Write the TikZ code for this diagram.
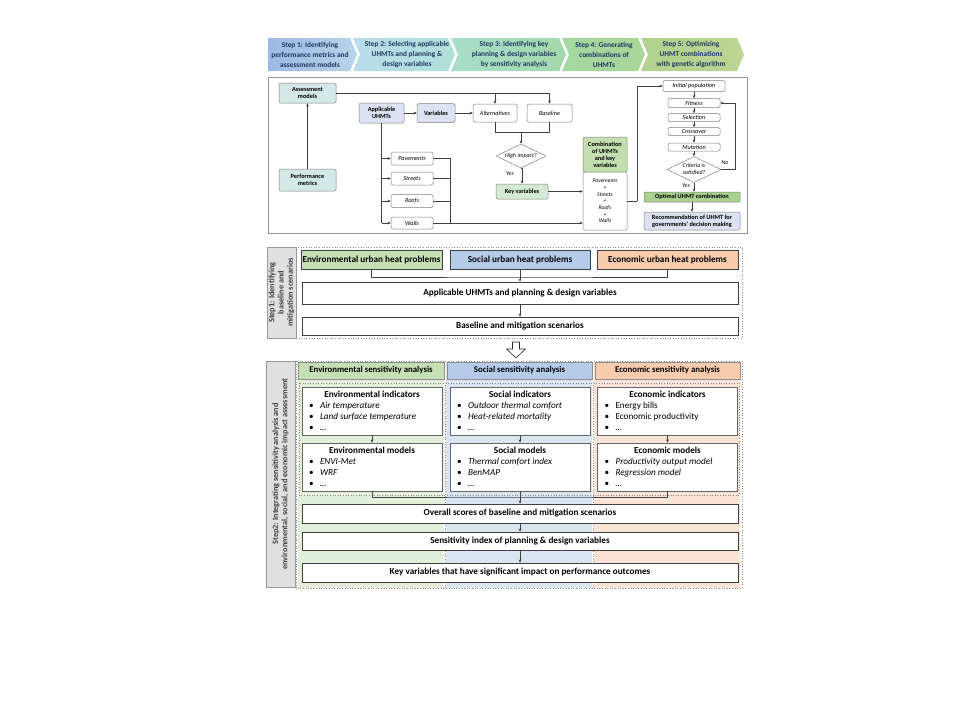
\documentclass[tikz,border=0pt]{standalone}
\usepackage{fontspec}
\setmainfont{Carlito}
\usetikzlibrary{shapes.geometric,arrows.meta,calc}
\newcommand\myfs[2]{\fontsize{#1}{#2}\selectfont}
\newcommand\myitem[1]{\makebox[136pt][l]{\hspace*{5pt}\makebox[11pt][l]{\textbullet}#1}}
\definecolor{navy}{HTML}{203864}
\definecolor{cteal}{HTML}{D2E9E7}
\definecolor{clav}{HTML}{DCE2F3}
\definecolor{ckey}{HTML}{D3EBD6}
\definecolor{ccomb}{HTML}{C3DFB0}
\definecolor{copt}{HTML}{A9D18E}
\definecolor{genv}{HTML}{C5E0B4}
\definecolor{gsoc}{HTML}{B4CCEA}
\definecolor{geco}{HTML}{F8CBAD}
\definecolor{lenv}{HTML}{E2EFDA}
\definecolor{lsoc}{HTML}{DAE5F3}
\definecolor{leco}{HTML}{FBE4D6}
\definecolor{ba1}{HTML}{9CBAE2}
\definecolor{bb1}{HTML}{B9D3EA}
\definecolor{ba2}{HTML}{B9DCEA}
\definecolor{bb2}{HTML}{AEE0D9}
\definecolor{ba3}{HTML}{A8DDCB}
\definecolor{bb3}{HTML}{A2D9A9}
\definecolor{ba4}{HTML}{A2D8A2}
\definecolor{bb4}{HTML}{A9D597}
\definecolor{ba5}{HTML}{AFD28E}
\definecolor{bb5}{HTML}{BDD592}
\begin{document}
\begin{tikzpicture}[x=1pt,y=-1pt,
  ln/.style={draw=black!75,line width=0.55pt},
  arr/.style={ln,-{Stealth[length=3.2pt,width=2.8pt]}},
  tb/.style={draw=black!50,line width=0.5pt,rounded corners=1.5pt,inner sep=0pt,align=center,font=\myfs{6.2}{7}},
  tbb/.style={tb,font=\myfs{6.3}{7}\bfseries},
  tbi/.style={tb,font=\myfs{6.2}{7}\itshape},
  dia/.style={diamond,aspect=2,draw=black!50,line width=0.5pt,inner sep=0pt,align=center,font=\myfs{5.9}{6.4}\itshape},
  big/.style={draw=black!75,line width=0.6pt,inner sep=0pt,align=center,font=\myfs{9.2}{10}\bfseries},
  pan/.style={draw=black!60,fill=white,line width=0.6pt,inner sep=0pt,minimum width=140pt,align=center,font=\myfs{9.2}{10.8}},
  sidel/.style={draw=black!40,fill=black!12,line width=0.5pt,inner sep=0pt,rotate=90,align=center,font=\myfs{8.2}{9.2}\bfseries,text=black!75},
  dotf/.style={draw=black!45,dotted,line width=0.6pt},
  ban/.style={align=center,font=\myfs{7.4}{10}\bfseries,text=navy,inner sep=0pt},
]
\useasboundingbox (0,0) rectangle (960,720);
\fill[white] (0,0) rectangle (960,720);

% ---------- banner ----------
\shade[left color=ba1,right color=bb1] (268,38) -- (350,38) -- (357,54.5) -- (350,71) -- (268,71) -- cycle;
\shade[left color=ba2,right color=bb2] (353,38) -- (448,38) -- (455,54.5) -- (448,71) -- (353,71) -- (360,54.5) -- cycle;
\shade[left color=ba3,right color=bb3] (451,38) -- (559,38) -- (566,54.5) -- (559,71) -- (451,71) -- (458,54.5) -- cycle;
\shade[left color=ba4,right color=bb4] (562,38) -- (638,38) -- (645,54.5) -- (638,71) -- (562,71) -- (569,54.5) -- cycle;
\shade[left color=ba5,right color=bb5] (641,38) -- (737,38) -- (744,54.5) -- (737,71) -- (641,71) -- (648,54.5) -- cycle;
\node[ban] (b1) at (310,54.5) {Step 1: Identifying\\performance metrics and\\assessment models};
\node[ban] (b2) at (407,54.5) {Step 2: Selecting applicable\\UHMTs and planning \&\\design variables};
\node[ban] (b3) at (514,54.5) {Step 3: Identifying key\\planning \& design variables\\by sensitivity analysis};
\node[ban] (b4) at (604,54.5) {Step 4: Generating\\combinations of\\UHMTs};
\node[ban] (b5) at (691,54.5) {Step 5: Optimizing\\UHMT combinations\\with genetic algorithm};

% ---------- top flowchart ----------
\draw[black!40,line width=0.8pt] (268,77) rectangle (747,233);
\node[tbb,fill=cteal,minimum width=57pt,minimum height=20pt] (assess) at (307.5,93) {Assessment\\models};
\node[tbb,fill=cteal,minimum width=57pt,minimum height=22pt] (perf) at (307.5,180) {Performance\\metrics};
\node[tbb,fill=clav,minimum width=45pt,minimum height=20pt] (appl) at (381.5,113) {Applicable\\UHMTs};
\node[tbb,fill=clav,minimum width=38pt,minimum height=19pt] (vars) at (436,113) {Variables};
\node[tbi,fill=white,minimum width=44pt,minimum height=18pt] (alt) at (495,113) {Alternatives};
\node[tbi,fill=white,minimum width=45pt,minimum height=18pt] (base) at (549.5,113) {Baseline};
\node[dia,fill=white,minimum width=50pt,minimum height=24pt] (high) at (521,156) {High impact?};
\node[tbb,fill=ckey,minimum width=52pt,minimum height=15pt] (keyv) at (522,191.5) {Key variables};
\node[tbb,fill=ccomb,minimum width=44pt,minimum height=35pt] (comb) at (605,154.5) {Combination\\of UHMTs\\and key\\variables};
\node[tbi,fill=white,minimum width=44pt,minimum height=58pt,font=\myfs{5.6}{6.7}\itshape] (combl) at (605,201) {Pavements\\+\\Streets\\+\\Roofs\\+\\Walls};
\node[tbi,fill=white,minimum width=42pt,minimum height=13pt] (pav) at (412,158.5) {Pavements};
\node[tbi,fill=white,minimum width=42pt,minimum height=13pt] (str) at (412,178.5) {Streets};
\node[tbi,fill=white,minimum width=42pt,minimum height=13pt] (roof) at (412,201) {Roofs};
\node[tbi,fill=white,minimum width=42pt,minimum height=12pt] (walls) at (412,223) {Walls};
\node[tbi,fill=white,minimum width=62pt,minimum height=11pt] (init) at (694,86) {Initial population};
\node[tbi,fill=white,minimum width=52pt,minimum height=9pt] (fit) at (694,103) {Fitness};
\node[tbi,fill=white,minimum width=52pt,minimum height=8pt] (sel) at (694,117.5) {Selection};
\node[tbi,fill=white,minimum width=52pt,minimum height=8pt] (cross) at (694,131.5) {Crossover};
\node[tbi,fill=white,minimum width=52pt,minimum height=8pt] (mut) at (694,147) {Mutation};
\node[dia,fill=white,minimum width=54pt,minimum height=26pt] (crit) at (694,169.5) {Criteria is\\satisfied?};
\node[tbb,fill=copt,minimum width=96pt,minimum height=10pt,rounded corners=0.5pt] (opt) at (692,197) {Optimal UHMT combination};
\node[tbb,fill=clav,minimum width=96pt,minimum height=18pt] (rec) at (692,221) {Recommendation of UHMT for\\governments' decision making};

\draw[arr] (perf.north) -- (assess.south);
\draw[ln] (assess.east) -- (base.north |- assess.east);
\draw[arr] (base.north |- assess.east) -- (base.north);
\draw[arr] (alt.north |- assess.east) -- (alt.north);
\draw[arr] (appl.east) -- (vars.west);
\draw[arr] (vars.east) -- (alt.west);
\coordinate (j1) at (521,132.5);
\draw[ln] (alt.south) |- (j1) -| (base.south);
\draw[arr] (j1) -- (high.north);
\draw[arr] (high.south) -- (keyv.north |- high.south) -- (keyv.north);
\node[font=\myfs{5.9}{6.4}\itshape,inner sep=0pt] (yes1) at (510,174) {Yes};
\draw[ln] (appl.south) -- (appl.south |- walls.west);
\draw[arr] (appl.south |- pav.west) -- (pav.west);
\draw[arr] (appl.south |- str.west) -- (str.west);
\draw[arr] (appl.south |- roof.west) -- (roof.west);
\draw[arr] (appl.south |- walls.west) -- (walls.west);
\coordinate (j2) at (450,158.5);
\draw[ln] (pav.east) -- (j2) -- (j2 |- walls.east);
\draw[ln] (str.east) -- (str.east -| j2);
\draw[ln] (roof.east) -- (roof.east -| j2);
\draw[arr] (walls.east) -- (walls.east -| combl.west);
\draw[arr] (keyv.east) -- (keyv.east -| combl.west);
\coordinate (j3) at (637,201);
\draw[ln] (combl.east) -- (j3);
\draw[arr] (j3) |- (init.west);
\draw[arr] (init.south) -- (fit.north);
\draw[arr] (fit.south) -- (sel.north);
\draw[arr] (sel.south) -- (cross.north);
\draw[arr] (cross.south) -- (mut.north);
\draw[arr] (mut.south) -- (crit.north);
\coordinate (j4) at (735,169.5);
\draw[ln] (crit.east) -- (j4);
\draw[arr] (j4) |- (fit.east);
\node[font=\myfs{5.9}{6.4}\itshape,inner sep=0pt] (no1) at (725,163) {No};
\draw[arr] (crit.south) -- (crit.south |- opt.north);
\node[font=\myfs{5.9}{6.4}\itshape,inner sep=0pt] (yes2) at (686,186) {Yes};
\draw[arr] (opt.south) -- (rec.north);

% ---------- Step 1 ----------
\draw[dotf] (296,247) rectangle (742,338);
\node[sidel,minimum width=91pt,minimum height=29pt] (s1) at (281.5,292.5) {Step1: Identifying\\baseline and\\mitigation scenarios};
\node[big,fill=genv,minimum width=141pt,minimum height=19pt] (env1) at (371.5,259.5) {Environmental urban heat problems};
\node[big,fill=gsoc,minimum width=140pt,minimum height=19pt] (soc1) at (520,259.5) {Social urban heat problems};
\node[big,fill=geco,minimum width=141pt,minimum height=19pt] (eco1) at (667.5,259.5) {Economic urban heat problems};
\node[big,fill=white,minimum width=436pt,minimum height=22pt] (appl2) at (520,293) {Applicable UHMTs and planning \& design variables};
\node[big,fill=white,minimum width=436pt,minimum height=18pt] (basel) at (520,326) {Baseline and mitigation scenarios};
\coordinate (j5) at (520,277);
\draw[ln] (env1.south) |- (j5) -| (eco1.south);
\draw[arr] (soc1.south) -- (appl2.north);
\draw[arr] (appl2.south) -- (basel.north);

% hollow arrow
\draw[fill=white,draw=black!85,line width=0.6pt] (512.5,342) -- (519.5,342) -- (519.5,349) -- (525.5,349) -- (516,358) -- (506.5,349) -- (512.5,349) -- cycle;

% ---------- Step 2 ----------
\fill[lenv] (298,362) rectangle (444,588);
\fill[lsoc] (446,362) rectangle (592,588);
\fill[leco] (594,362) rectangle (740,588);
\draw[dotf] (296,361) rectangle (742,588);
\draw[dotf] (445,382) -- (445,588);
\draw[dotf] (593,382) -- (593,588);
\draw[dotf] (299,383) rectangle (739,495);
\node[sidel,minimum width=226pt,minimum height=29pt] (s2) at (280.5,474) {Step2: Integrating sensitivity analysis and\\environmental, social, and economic impact assessment};
\node[big,fill=genv,draw=black!45,minimum width=146pt,minimum height=17pt,font=\myfs{8.8}{9.5}\bfseries] (env2) at (371,370.5) {Environmental sensitivity analysis};
\node[big,fill=gsoc,draw=black!45,minimum width=145pt,minimum height=17pt,font=\myfs{8.8}{9.5}\bfseries] (soc2) at (519.5,370.5) {Social sensitivity analysis};
\node[big,fill=geco,draw=black!45,minimum width=145pt,minimum height=17pt,font=\myfs{8.8}{9.5}\bfseries] (eco2) at (667.5,370.5) {Economic sensitivity analysis};

\node[pan,minimum height=48pt] (envI) at (372,411) {\textbf{Environmental indicators}\\\myitem{\itshape Air temperature}\\\myitem{\itshape Land surface temperature}\\\myitem{\itshape\ldots}};
\node[pan,minimum height=48pt] (socI) at (520,411) {\textbf{Social indicators}\\\myitem{\itshape Outdoor thermal comfort}\\\myitem{\itshape Heat-related mortality}\\\myitem{\itshape\ldots}};
\node[pan,minimum height=48pt] (ecoI) at (667.5,411) {\textbf{Economic indicators}\\\myitem{Energy bills}\\\myitem{Economic productivity}\\\myitem{\ldots}};
\node[pan,minimum height=48pt] (envM) at (372,467) {\textbf{Environmental models}\\\myitem{\itshape ENVI-Met}\\\myitem{\itshape WRF}\\\myitem{\itshape\ldots}};
\node[pan,minimum height=48pt] (socM) at (520,467) {\textbf{Social models}\\\myitem{\itshape Thermal comfort index}\\\myitem{\itshape BenMAP}\\\myitem{\itshape\ldots}};
\node[pan,minimum height=48pt] (ecoM) at (667.5,467) {\textbf{Economic models}\\\myitem{\itshape Productivity output model}\\\myitem{\itshape Regression model}\\\myitem{\itshape\ldots}};
\draw[arr] (envI.south) -- (envM.north);
\draw[arr] (socI.south) -- (socM.north);
\draw[arr] (ecoI.south) -- (ecoM.north);

\node[big,fill=white,minimum width=436pt,minimum height=19pt] (overall) at (520,513.5) {Overall scores of baseline and mitigation scenarios};
\node[big,fill=white,minimum width=436pt,minimum height=18pt] (sens) at (520,541) {Sensitivity index of planning \& design variables};
\node[big,fill=white,minimum width=436pt,minimum height=19pt] (keyout) at (520,572.5) {Key variables that have significant impact on performance outcomes};
\coordinate (j6) at (520,497);
\draw[ln] (envM.south) |- (j6) -| (ecoM.south);
\draw[arr] (socM.south) -- (overall.north);
\draw[arr] (overall.south) -- (sens.north);
\draw[arr] (sens.south) -- (keyout.north);
\end{tikzpicture}
\end{document}
